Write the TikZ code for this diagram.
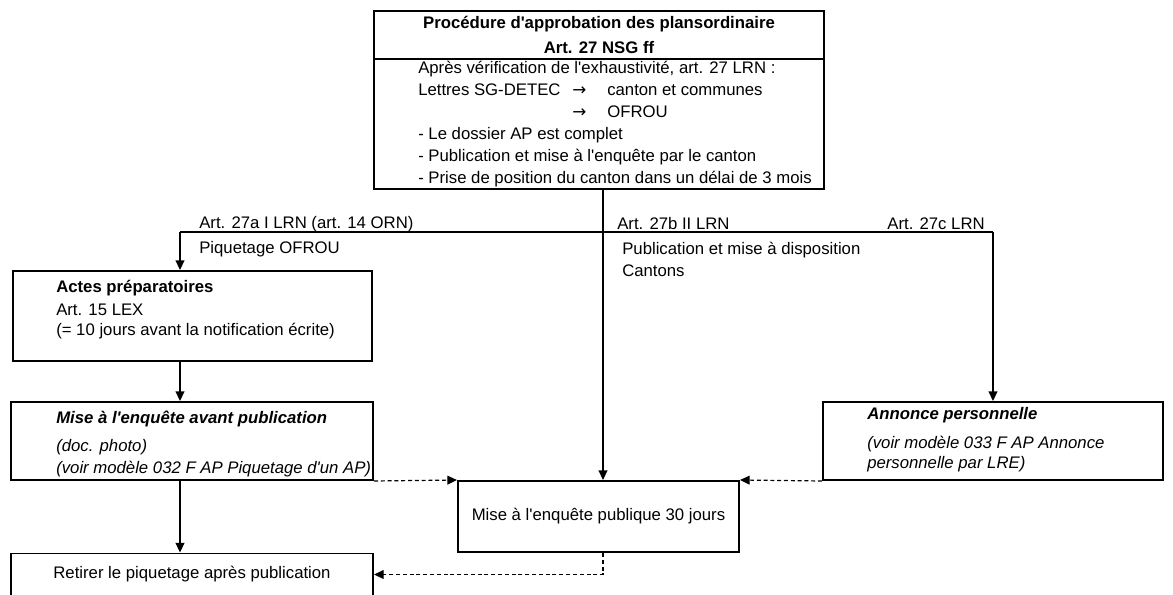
\documentclass[tikz,border=0pt]{standalone}
\usepackage{fontspec}
\setmainfont{Liberation Sans}
\newfontfamily\symb{DejaVu Sans}
\usetikzlibrary{arrows.meta}
\newcommand{\apos}{\textquotesingle}
\tikzset{
    arr/.style = {line width=0.85pt, -{Triangle[length=2.4mm, width=2.2mm]}},
    pointille/.style = {arr, dash pattern=on 1mm off 0.7mm},
    txt/.style = {inner sep=0, align=left},
}

\begin{document}
\begin{tikzpicture}[x=0.025cm, y=-0.025cm, font=\fontsize{11.9}{15.6}\selectfont]
        \useasboundingbox (0, 0) rectangle (1173, 594);
        \begin{scope}[every node/.style = {draw, line width=1.4pt, inner sep=0, align=center}]
            \node[minimum width=11.25cm, minimum height=1.2cm, font=\fontsize{11.9}{18.4}\selectfont\bfseries] (a) at (599, 35) {Procédure d\apos{}approbation des plansordinaire\\Art. 27 NSG ff};
            \node[minimum width=11.25cm, minimum height=3.25cm] (b) at (599, 124) {};
            \node[minimum width=8.975cm, minimum height=2.25cm] (c) at (192.5, 316) {};
            \node[minimum width=9.05cm, minimum height=1.95cm] (d) at (192, 441) {};
            \node[minimum width=8.5cm, minimum height=1.95cm] (e) at (993, 441) {};
            \node[minimum width=7.025cm, minimum height=1.775cm] (f) at (598.5, 516.5) {Mise à l\apos{}enquête publique 30 jours};
            \node[minimum width=9.05cm, minimum height=1.05cm] (g) at (192, 574.5) {Retirer le piquetage après publication};
        \end{scope}
        % texts inside the boxes
        \node[txt, anchor=west] (b1) at ([xshift=1.125cm]b.west) {Après vérification de l\apos{}exhaustivité, art. 27 LRN :\\
            \makebox[3.85cm][l]{Lettres SG-DETEC}\makebox[0.875cm][l]{\symb →}canton et communes\\
            \hspace*{3.85cm}\makebox[0.875cm][l]{\symb →}OFROU\\
            - Le dossier AP est complet\\
            - Publication et mise à l\apos{}enquête par le canton\\
            - Prise de position du canton dans un délai de 3 mois};
        \node[txt, anchor=west] (c1) at ([xshift=1.1cm, yshift=0.16cm]c.west) {\textbf{Actes préparatoires}\\[0.5pt]
            Art. 15 LEX\\[-1.5pt]
            (= 10 jours avant la notification écrite)};
        \node[txt, anchor=west, font=\fontsize{11.9}{15.6}\selectfont\itshape] (d1) at ([xshift=1.15cm, yshift=-0.07cm]d.west) {\textbf{Mise à l\apos{}enquête avant publication}\\[4pt]
            (doc. photo)\\
            (voir modèle 032 F AP Piquetage d\apos{}un AP)};
        \node[txt, anchor=west, font=\fontsize{11.9}{15.6}\selectfont\itshape] (e1) at ([xshift=1.125cm, yshift=0.03cm]e.west) {\textbf{Annonce personnelle}\\[5pt]
            (voir modèle 033 F AP Annonce\\[-1pt]
            personnelle par LRE)};
        % labels on the branches
        \node[txt, anchor=base west] (l1) at (199, 228) {Art. 27a I LRN (art. 14 ORN)};
        \node[txt, anchor=base west] (l2) at (199, 253) {Piquetage OFROU};
        \node[txt, anchor=base west] (l3) at (617, 229) {Art. 27b II LRN};
        \node[txt, anchor=north west] (l4) at (622, 242) {Publication et mise à disposition\\Cantons};
        \node[txt, anchor=base east] (l5) at (985, 229) {Art. 27c LRN};
        % connectors
        \coordinate (fork) at (603, 232);
        \coordinate (gauche) at (180, 232);
        \coordinate (droite) at (993, 232);
        \draw[line width=0.85pt] (gauche) -- (droite);
        \draw[arr] (b.south -| fork) -- (fork |- f.north);
        \draw[arr] (gauche) -- (gauche |- c.north);
        \draw[arr] (droite) -- (e.north);
        \draw[arr] (c.south -| gauche) -- (gauche |- d.north);
        \draw[arr] (d.south -| gauche) -- (gauche |- g.north);
        \draw[pointille] (d.south east) -- (f.north west);
        \draw[pointille] (e.south west) -- (f.north east);
        \draw[pointille] (f.south -| fork) |- (g.east);
    \end{tikzpicture}
\end{document}
